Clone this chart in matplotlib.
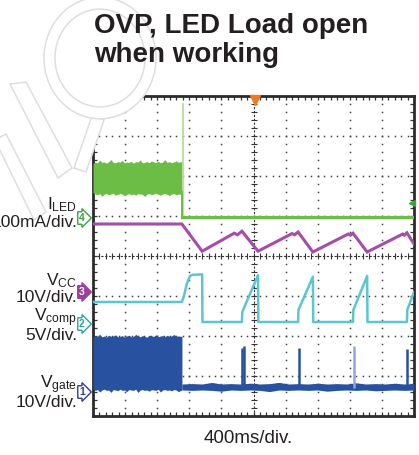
import numpy as np
import matplotlib
matplotlib.use("Agg")
import matplotlib.pyplot as plt
from matplotlib.patches import Circle, Polygon
from matplotlib.ticker import MultipleLocator

plt.rcParams['font.family'] = ['Liberation Sans', 'DejaVu Sans']
plt.rcParams['mathtext.fontset'] = 'custom'
plt.rcParams['mathtext.rm'] = 'Liberation Sans'
plt.rcParams['mathtext.it'] = 'Liberation Sans'

W, H = 419, 455
TXT = '#231f20'

# ---- data (scope divisions: x 0..10, y -4..4) ----
t_open = 2.77

# I_LED (ch4) noisy band before the open event
iled_x   = [0.00, 0.07, 0.14, 0.21, 0.28, 0.35, 0.42, 0.49, 0.56, 0.63, 0.70, 0.77, 0.84, 0.91,
            0.98, 1.05, 1.12, 1.19, 1.26, 1.33, 1.40, 1.47, 1.54, 1.61, 1.68, 1.75, 1.82, 1.89,
            1.96, 2.03, 2.10, 2.17, 2.24, 2.31, 2.38, 2.45, 2.52, 2.59, 2.66, 2.77]
iled_top = [2.31, 2.35, 2.33, 2.40, 2.34, 2.35, 2.32, 2.36, 2.41, 2.34, 2.33, 2.36, 2.35, 2.39,
            2.33, 2.35, 2.34, 2.37, 2.32, 2.36, 2.35, 2.40, 2.33, 2.34, 2.36, 2.33, 2.38, 2.35,
            2.34, 2.37, 2.33, 2.35, 2.41, 2.34, 2.36, 2.33, 2.35, 2.38, 2.34, 2.36]
iled_bot = [1.58, 1.55, 1.53, 1.56, 1.49, 1.55, 1.56, 1.53, 1.55, 1.57, 1.52, 1.54, 1.56, 1.55,
            1.50, 1.54, 1.56, 1.53, 1.55, 1.52, 1.56, 1.55, 1.54, 1.49, 1.55, 1.56, 1.53, 1.55,
            1.57, 1.54, 1.52, 1.55, 1.56, 1.54, 1.51, 1.55, 1.56, 1.53, 1.55, 1.54]
iled_after = 0.97
iled_spike = 3.80

# V_CC (ch3)
vcc_t = [0.00, 2.77, 3.40, 4.40, 4.50, 4.64, 5.14, 6.20, 6.28, 6.39, 6.85, 7.95, 8.02, 8.10, 8.54, 9.65, 9.70, 9.78, 10.0]
vcc_v = [0.80, 0.80, 0.12, 0.57, 0.53, 0.62, 0.12, 0.56, 0.53, 0.60, 0.10, 0.55, 0.52, 0.57, 0.10, 0.55, 0.52, 0.58, 0.30]

# V_comp (ch2)
vcomp_t = [0.00, 2.77, 2.84, 2.92, 3.02, 3.10, 3.40, 3.41, 4.64, 4.65, 5.14, 5.15, 6.39, 6.40,
           6.85, 6.86, 8.10, 8.11, 8.54, 8.55, 9.78, 9.79, 10.0]
vcomp_v = [-1.15, -1.15, -0.98, -0.70, -0.50, -0.47, -0.46, -1.65, -1.65, -1.40, -0.48, -1.65, -1.65, -1.35,
           -0.52, -1.65, -1.65, -1.35, -0.50, -1.65, -1.65, -1.35, -0.90]

# V_gate (ch1) switching band before the open event
gate_x   = iled_x
gate_top = [-2.02, -1.99, -2.01, -1.96, -2.02, -2.00, -2.03, -1.98, -2.01, -2.00, -1.97, -2.02, -2.01, -1.99,
            -2.03, -2.00, -1.98, -2.02, -2.01, -1.96, -2.00, -2.02, -1.99, -2.01, -2.03, -1.98, -2.00, -2.01,
            -1.97, -2.02, -2.00, -1.99, -2.02, -1.98, -2.01, -2.00, -1.96, -2.01, -2.00, -2.01]
gate_bot = [-3.33, -3.36, -3.34, -3.40, -3.35, -3.33, -3.36, -3.35, -3.41, -3.34, -3.35, -3.37, -3.33, -3.36,
            -3.35, -3.39, -3.34, -3.35, -3.36, -3.33, -3.41, -3.35, -3.34, -3.36, -3.35, -3.38, -3.34, -3.35,
            -3.36, -3.33, -3.40, -3.35, -3.34, -3.36, -3.35, -3.37, -3.34, -3.35, -3.39, -3.35]
# idle level after the open event
idle_x   = [2.77, 3.10, 3.40, 3.70, 4.00, 4.30, 4.60, 4.90, 5.20, 5.50, 5.80, 6.10, 6.40, 6.70,
            7.00, 7.30, 7.60, 7.90, 8.20, 8.50, 8.80, 9.10, 9.40, 9.70, 10.0]
idle_top = [-3.20, -3.19, -3.20, -3.16, -3.20, -3.19, -3.20, -3.18, -3.20, -3.19, -3.16, -3.20, -3.19, -3.20,
            -3.18, -3.20, -3.19, -3.20, -3.17, -3.20, -3.19, -3.20, -3.18, -3.20, -3.19]
idle_bot = [-3.35, -3.36, -3.35, -3.36, -3.38, -3.35, -3.36, -3.35, -3.36, -3.39, -3.35, -3.36, -3.35, -3.36,
            -3.35, -3.38, -3.36, -3.35, -3.36, -3.35, -3.37, -3.36, -3.35, -3.36, -3.35]
burst_t   = [4.64, 4.71, 6.42, 8.13, 9.78]
burst_top = [-2.30, -2.26, -2.30, -2.24, -2.33]
burst_col = ['#2852a0', '#2852a0', '#2852a0', '#8fa8d8', '#2852a0']

# channel ground markers
ch_num   = ['4', '3', '2', '1']
ch_level = [0.95, -0.90, -1.70, -3.40]
ch_color = ['#3aa040', '#9b3f9f', '#2aa0a8', '#2d3f95']
ch_fill  = [False, True, False, False]

GREEN = '#6cbd45'
PURPLE = '#a54ea9'
CYAN = '#5cc6d0'
BLUE = '#2852a0'


def fx(x):
    return x / W


def fy(y):
    return 1 - y / H


fig = plt.figure(figsize=(W / 100, H / 100), dpi=100)

# faint watermark behind everything
wm = dict(transform=fig.transFigure, fill=True, fc='white', ec='#dedede', lw=1.1, zorder=0)
for pts in [[(10, 84), (26, 82), (72, 168), (58, 178)],
            [(-5, 140), (6, 134), (46, 212), (34, 220)],
            [(74, 168), (86, 172), (104, 120), (92, 116)]]:
    fig.patches.append(Polygon([(fx(a), fy(b)) for a, b in pts], closed=True, **wm))
fig.patches.append(Circle((fx(100), fy(58)), 56 / W, **wm))
fig.patches.append(Circle((fx(100), fy(58)), 45 / W, **wm))

ax = fig.add_axes([fx(93), fy(416), (414 - 93) / W, 320 / H])
ax.set_xlim(0, 10)
ax.set_ylim(-4, 4)
ax.set_facecolor('white')
for s in ax.spines.values():
    s.set_linewidth(2.0)
    s.set_color('#2b2b2b')
ax.xaxis.set_major_locator(MultipleLocator(1))
ax.xaxis.set_minor_locator(MultipleLocator(0.2))
ax.yaxis.set_major_locator(MultipleLocator(1))
ax.yaxis.set_minor_locator(MultipleLocator(0.2))
ax.tick_params(which='both', direction='in', top=True, right=True, length=3, width=0.9,
               colors='#333333', labelbottom=False, labelleft=False)

# dotted graticule
sub_x = np.arange(0, 10.01, 0.2)
sub_y = np.arange(-4, 4.01, 0.2)
for gx in range(1, 10):
    if gx != 5:
        ax.plot(np.full_like(sub_y, gx), sub_y, ls='none', marker='s', ms=1.1, mew=0, color='#444444', zorder=1)
for gy in range(-3, 4):
    if gy != 0:
        ax.plot(sub_x, np.full_like(sub_x, gy), ls='none', marker='s', ms=1.1, mew=0, color='#444444', zorder=1)
# centre cross with sub-division ticks
ax.plot([5, 5], [-4, 4], ls=(0, (2, 1.5)), lw=0.8, color='#333333', zorder=1)
ax.plot([0, 10], [0, 0], ls=(0, (2, 1.5)), lw=0.8, color='#333333', zorder=1)
ax.plot(np.full_like(sub_y, 5), sub_y, ls='none', marker='_', ms=4, mew=0.8, color='#333333', zorder=1)
ax.plot(sub_x, np.zeros_like(sub_x), ls='none', marker='|', ms=4, mew=0.8, color='#333333', zorder=1)

# I_LED
ax.fill_between(iled_x, iled_bot, iled_top, color=GREEN, lw=0, zorder=3)
ax.plot([t_open + 0.02, t_open + 0.02], [iled_after, iled_spike], color='#b5dd98', lw=1.3, zorder=3)
ax.plot([t_open, t_open], [iled_after, 1.6], color=GREEN, lw=1.4, zorder=3)
ax.plot([t_open, 10], [iled_after, iled_after], color=GREEN, lw=2.3, zorder=3)
ax.plot([9.93], [1.32], marker='<', ms=5, color='#3aa040', clip_on=False, zorder=5)

# V_CC
ax.plot(vcc_t, vcc_v, color=PURPLE, lw=2.2, zorder=3, solid_joinstyle='miter')

# V_comp
ax.plot(vcomp_t, vcomp_v, color=CYAN, lw=1.8, zorder=3)

# V_gate
ax.fill_between(gate_x, gate_bot, gate_top, color=BLUE, lw=0, zorder=3)
ax.fill_between(idle_x, idle_bot, idle_top, color=BLUE, lw=0, zorder=3)
ax.vlines(burst_t, -3.3, burst_top, colors=burst_col, lw=1.8, zorder=3)

# trigger marker
ax.plot([5.05], [3.9], marker='v', ms=7, color='#f07a22', clip_on=False, zorder=6)

# channel ground markers
for num, lvl, col, filled in zip(ch_num, ch_level, ch_color, ch_fill):
    ax.annotate(num, xy=(0, lvl), xycoords=ax.get_yaxis_transform(),
                xytext=(-8, 0), textcoords='offset points', ha='center', va='center',
                fontsize=7.5, fontweight='bold', color='white' if filled else col,
                bbox=dict(boxstyle='rarrow,pad=0.12', fc=col if filled else 'white', ec=col, lw=1.0),
                annotation_clip=False)

# text
fig.text(fx(94), fy(33), 'OVP, LED Load open', fontsize=20, fontweight='bold', color=TXT, va='baseline')
fig.text(fx(94), fy(62), 'when working', fontsize=20, fontweight='bold', color=TXT, va='baseline')

labels = [(r'I$_{\mathrm{LED}}$', 209), ('100mA/div.', 227),
          (r'V$_{\mathrm{CC}}$', 285), ('10V/div.', 302),
          (r'V$_{\mathrm{comp}}$', 321), ('5V/div.', 340),
          (r'V$_{\mathrm{gate}}$', 388), ('10V/div.', 407)]
for s, yy in labels:
    fig.text(fx(77), fy(yy), s, fontsize=12.5, color=TXT, ha='right', va='baseline')

fig.text(fx(248), fy(443), '400ms/div.', fontsize=13.5, color=TXT, ha='center', va='baseline')

fig.savefig('out.png', dpi=100, facecolor='white')
